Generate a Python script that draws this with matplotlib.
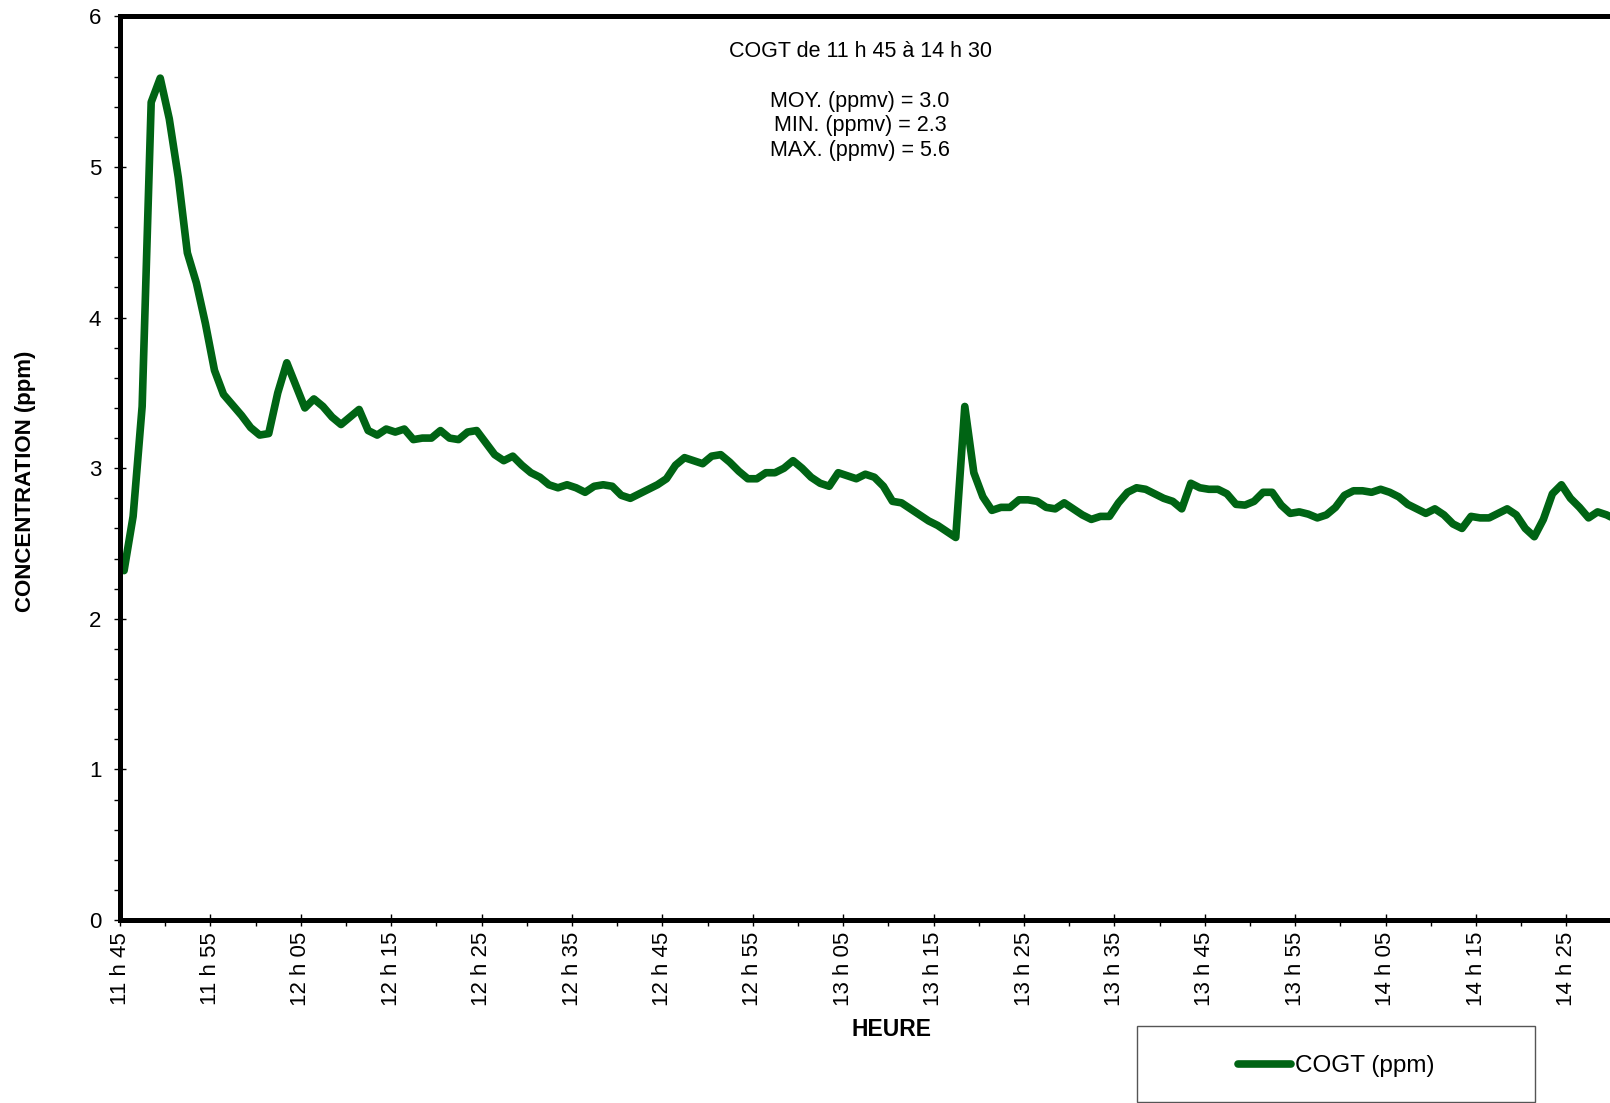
import matplotlib
matplotlib.use('Agg')
import matplotlib.pyplot as plt
from matplotlib.patches import Rectangle
from matplotlib.ticker import MultipleLocator

plt.rcParams['font.family'] = ['Liberation Sans', 'DejaVu Sans']

# COGT readings, one per minute from 11 h 45 to 14 h 30 (ppm)
cogt = [2.32, 2.68, 3.41, 5.43, 5.59, 5.32, 4.93, 4.43, 4.23, 3.96,
        3.65, 3.49, 3.42, 3.35, 3.27, 3.22, 3.23, 3.50, 3.70, 3.55,
        3.40, 3.46, 3.41, 3.34, 3.29, 3.34, 3.39, 3.25, 3.22, 3.26,
        3.24, 3.26, 3.19, 3.20, 3.20, 3.25, 3.20, 3.19, 3.24, 3.25,
        3.17, 3.09, 3.05, 3.08, 3.02, 2.97, 2.94, 2.89, 2.87, 2.89,
        2.87, 2.84, 2.88, 2.89, 2.88, 2.82, 2.80, 2.83, 2.86, 2.89,
        2.93, 3.02, 3.07, 3.05, 3.03, 3.08, 3.09, 3.04, 2.98, 2.93,
        2.93, 2.97, 2.97, 3.00, 3.05, 3.00, 2.94, 2.90, 2.88, 2.97,
        2.95, 2.93, 2.96, 2.94, 2.88, 2.78, 2.77, 2.73, 2.69, 2.65,
        2.62, 2.58, 2.54, 3.41, 2.97, 2.81, 2.72, 2.74, 2.74, 2.79,
        2.79, 2.78, 2.74, 2.73, 2.77, 2.73, 2.69, 2.66, 2.68, 2.68,
        2.77, 2.84, 2.87, 2.86, 2.83, 2.80, 2.78, 2.73, 2.90, 2.87,
        2.86, 2.86, 2.83, 2.76, 2.755, 2.78, 2.84, 2.84, 2.755, 2.70,
        2.71, 2.695, 2.67, 2.69, 2.74, 2.82, 2.85, 2.85, 2.84, 2.86,
        2.84, 2.81, 2.76, 2.73, 2.70, 2.73, 2.69, 2.63, 2.60, 2.68,
        2.67, 2.67, 2.70, 2.73, 2.69, 2.60, 2.545, 2.66, 2.83, 2.89,
        2.80, 2.74, 2.67, 2.71, 2.69, 2.66]

# readings are taken about 30 s after each full minute
start_offset_min = 0.45

# x tick labels, every 10 minutes
tick_labels = ['11 h 45', '11 h 55', '12 h 05', '12 h 15', '12 h 25',
               '12 h 35', '12 h 45', '12 h 55', '13 h 05', '13 h 15',
               '13 h 25', '13 h 35', '13 h 45', '13 h 55', '14 h 05',
               '14 h 15', '14 h 25']

stats_title = 'COGT de 11 h 45 à 14 h 30'
stats_lines = ['MOY. (ppmv) = 3.0', 'MIN. (ppmv) = 2.3', 'MAX. (ppmv) = 5.6']

W, H = 1610, 1103
fig = plt.figure(figsize=(W / 100, H / 100), dpi=100)
# plot area: left 120 px, bottom 920 px, top 16 px, right just past the edge
ax = fig.add_axes([120 / W, 1 - 920 / H, 1491.6 / W, 903.6 / H])

minutes = [i + start_offset_min for i in range(len(cogt))]
green = '#006414'
line, = ax.plot(minutes, cogt, color=green, linewidth=5.5,
                solid_joinstyle='round', solid_capstyle='round',
                label='COGT (ppm)')

ax.set_xlim(0, 165)
ax.set_ylim(0, 6)

ax.set_xticks(range(0, 10 * len(tick_labels), 10))
ax.set_xticklabels(tick_labels, rotation=90)
ax.xaxis.set_minor_locator(MultipleLocator(5))
ax.yaxis.set_major_locator(MultipleLocator(1))
ax.yaxis.set_minor_locator(MultipleLocator(0.2))

ax.tick_params(axis='both', which='major', direction='inout', length=9,
               width=1, labelsize=16, color='black')
ax.tick_params(axis='both', which='minor', direction='out', length=4,
               width=1, color='black')
ax.tick_params(axis='x', which='major', pad=4)
ax.tick_params(axis='y', which='major', pad=9)

for s in ax.spines.values():
    s.set_linewidth(3.6)
    s.set_color('black')

ax.set_ylabel('CONCENTRATION (ppm)', fontsize=16, fontweight='bold')
ax.yaxis.set_label_coords((26 - 120) / 1491.6, (920 - 481) / 903.6)
ax.yaxis.label.set_va('center')
ax.set_xlabel('HEURE', fontsize=16.5, fontweight='bold')
ax.xaxis.set_label_coords((891 - 120) / 1491.6, (920 - 1029) / 903.6)
ax.xaxis.label.set_va('center')

# statistics block
fig.text(860 / W, 1 - 51.5 / H, stats_title, fontsize=15.5,
         ha='center', va='center')
for i, txt in enumerate(stats_lines):
    fig.text(860 / W, 1 - (101 + 24.6 * i) / H, txt, fontsize=15.5,
             ha='center', va='center')

# legend box
fig.patches.append(Rectangle((1137 / W, 1 / H), 398 / W, 76 / H,
                             transform=fig.transFigure, fill=False,
                             edgecolor='#555555', linewidth=1))
fig.legend(handles=[line], loc='center left',
           bbox_to_anchor=(1238 / W, 1 - 1066 / H), frameon=False,
           fontsize=17.5, handlelength=2.2, handletextpad=0.15,
           borderpad=0, borderaxespad=0)

plt.savefig('out.png', dpi=100)
